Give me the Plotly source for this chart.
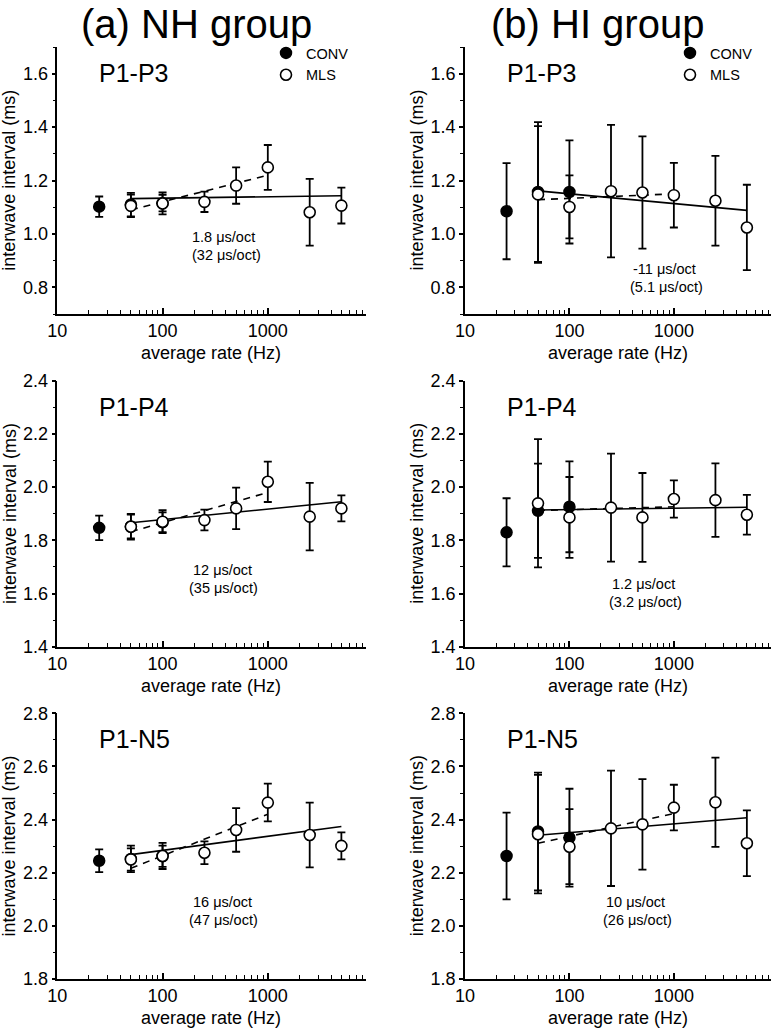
import plotly.graph_objects as go

# ---------------- data ----------------
rates_conv = [25, 50, 100]
rates_mls = [50, 100, 250, 500, 1000, 2500, 5000]
fit_solid_x = [50, 5000]
fit_dashed_x = [50, 1000]

# (a) NH group, P1-P3
nh_p13_conv = [1.102, 1.110, 1.115]
nh_p13_conv_err = [0.038, 0.044, 0.031]
nh_p13_mls = [1.105, 1.114, 1.120, 1.181, 1.249, 1.081, 1.106]
nh_p13_mls_err = [0.042, 0.041, 0.038, 0.068, 0.084, 0.125, 0.067]
nh_p13_fit_all = [1.132, 1.143]
nh_p13_fit_low = [1.090, 1.220]
nh_p13_slopes = ["1.8 μs/oct", "(32 μs/oct)"]

# (b) HI group, P1-P3
hi_p13_conv = [1.085, 1.157, 1.157]
hi_p13_conv_err = [0.180, 0.262, 0.193]
hi_p13_mls = [1.148, 1.101, 1.160, 1.155, 1.145, 1.124, 1.024]
hi_p13_mls_err = [0.256, 0.118, 0.248, 0.210, 0.121, 0.168, 0.160]
hi_p13_fit_all = [1.161, 1.088]
hi_p13_fit_low = [1.128, 1.150]
hi_p13_slopes = ["-11 μs/oct", "(5.1 μs/oct)"]

# (a) NH group, P1-P4
nh_p14_conv = [1.847, 1.852, 1.868]
nh_p14_conv_err = [0.046, 0.045, 0.037]
nh_p14_mls = [1.851, 1.870, 1.876, 1.920, 2.020, 1.889, 1.920]
nh_p14_mls_err = [0.048, 0.043, 0.039, 0.078, 0.076, 0.127, 0.049]
nh_p14_fit_all = [1.866, 1.945]
nh_p14_fit_low = [1.832, 1.980]
nh_p14_slopes = ["12 μs/oct", "(35 μs/oct)"]

# (b) HI group, P1-P4
hi_p14_conv = [1.830, 1.911, 1.926]
hi_p14_conv_err = [0.128, 0.177, 0.171]
hi_p14_mls = [1.939, 1.886, 1.923, 1.886, 1.955, 1.951, 1.896]
hi_p14_mls_err = [0.241, 0.152, 0.203, 0.167, 0.070, 0.138, 0.075]
hi_p14_fit_all = [1.914, 1.924]
hi_p14_fit_low = [1.912, 1.926]
hi_p14_slopes = ["1.2 μs/oct", "(3.2 μs/oct)"]

# (a) NH group, P1-N5
nh_n5_conv = [2.245, 2.252, 2.262]
nh_n5_conv_err = [0.043, 0.050, 0.040]
nh_n5_mls = [2.250, 2.263, 2.275, 2.361, 2.464, 2.342, 2.301]
nh_n5_mls_err = [0.042, 0.049, 0.043, 0.082, 0.071, 0.122, 0.051]
nh_n5_fit_all = [2.268, 2.374]
nh_n5_fit_low = [2.217, 2.420]
nh_n5_slopes = ["16 μs/oct", "(47 μs/oct)"]

# (b) HI group, P1-N5
hi_n5_conv = [2.263, 2.355, 2.332]
hi_n5_conv_err = [0.163, 0.222, 0.184]
hi_n5_mls = [2.345, 2.298, 2.367, 2.382, 2.445, 2.465, 2.311]
hi_n5_mls_err = [0.223, 0.141, 0.217, 0.170, 0.086, 0.168, 0.124]
hi_n5_fit_all = [2.341, 2.407]
hi_n5_fit_low = [2.311, 2.423]
hi_n5_slopes = ["10 μs/oct", "(26 μs/oct)"]

group_titles = ["(a) NH group", "(b) HI group"]
panel_labels = ["P1-P3", "P1-P3", "P1-P4", "P1-P4", "P1-N5", "P1-N5"]

# y axes per row: range, labelled ticks, minor ticks
row_y_range = [[0.7, 1.7], [1.4, 2.4], [1.8, 2.8]]
row_y_major = [[0.8, 1.0, 1.2, 1.4, 1.6],
               [1.4, 1.6, 1.8, 2.0, 2.2, 2.4],
               [1.8, 2.0, 2.2, 2.4, 2.6, 2.8]]
row_y_minor = [[0.7, 0.9, 1.1, 1.3, 1.5, 1.7],
               [1.5, 1.7, 1.9, 2.1, 2.3],
               [1.9, 2.1, 2.3, 2.5, 2.7]]

x_tick_vals = [10, 100, 1000]
x_tick_text = ["10", "100", "1000"]
x_minor_vals = [20, 30, 40, 50, 60, 70, 80, 90, 200, 300, 400, 500, 600, 700, 800, 900,
                2000, 3000, 4000, 5000, 6000, 7000, 8000]
x_title = "average rate (Hz)"
y_title = "interwave interval (ms)"

# ---------------- layout helpers ----------------
W, H = 773, 1030
FONT = "Liberation Sans, Arial, sans-serif"

panels = [
    (nh_p13_conv, nh_p13_conv_err, nh_p13_mls, nh_p13_mls_err, nh_p13_fit_all, nh_p13_fit_low, nh_p13_slopes),
    (hi_p13_conv, hi_p13_conv_err, hi_p13_mls, hi_p13_mls_err, hi_p13_fit_all, hi_p13_fit_low, hi_p13_slopes),
    (nh_p14_conv, nh_p14_conv_err, nh_p14_mls, nh_p14_mls_err, nh_p14_fit_all, nh_p14_fit_low, nh_p14_slopes),
    (hi_p14_conv, hi_p14_conv_err, hi_p14_mls, hi_p14_mls_err, hi_p14_fit_all, hi_p14_fit_low, hi_p14_slopes),
    (nh_n5_conv, nh_n5_conv_err, nh_n5_mls, nh_n5_mls_err, nh_n5_fit_all, nh_n5_fit_low, nh_n5_slopes),
    (hi_n5_conv, hi_n5_conv_err, hi_n5_mls, hi_n5_mls_err, hi_n5_fit_all, hi_n5_fit_low, hi_n5_slopes),
]

# pixel boxes (left, right) and (top, bottom)
col_px = [(57.3, 365.7), (465.0, 771.0)]
row_px = [(47.0, 314.0), (380.7, 646.7), (713.3, 979.0)]
# slope-text centres (px)
slope_px = [(224, 237), (664, 269), (222, 570), (643, 584), (222, 902), (635, 902)]
title_px = [(196, 24), (597, 24)]


def px_x(v):
    return v / W


def px_y(v):
    return 1 - v / H


fig = go.Figure()
layout = dict(
    width=W, height=H,
    margin=dict(l=0, r=0, t=0, b=0, autoexpand=False),
    paper_bgcolor="white", plot_bgcolor="white",
    font=dict(family=FONT, color="black", size=18),
    annotations=[],
)

for i, (conv, conv_err, mls, mls_err, fit_all, fit_low, slopes) in enumerate(panels):
    r, c = divmod(i, 2)
    xa = "x" if i == 0 else f"x{i+1}"
    ya = "y" if i == 0 else f"y{i+1}"
    xkey = "xaxis" if i == 0 else f"xaxis{i+1}"
    ykey = "yaxis" if i == 0 else f"yaxis{i+1}"
    (l, rr), (t, b) = col_px[c], row_px[r]

    layout[xkey] = dict(
        type="log", range=[1, 3.93], domain=[px_x(l), px_x(rr)], anchor=ya,
        tickmode="array", tickvals=x_tick_vals, ticktext=x_tick_text,
        ticks="inside", ticklen=6, tickwidth=1.5, tickcolor="black",
        minor=dict(tickmode="array", tickvals=x_minor_vals, ticks="inside", ticklen=4,
                   tickwidth=1.2, tickcolor="black"),
        showline=True, linewidth=1.5, linecolor="black", showgrid=False, zeroline=False,
        tickfont=dict(size=18), fixedrange=True,
    )
    layout[ykey] = dict(
        range=row_y_range[r], domain=[px_y(b), px_y(t)], anchor=xa,
        tickmode="array", tickvals=row_y_major[r], ticktext=[f"{v:.1f}" for v in row_y_major[r]],
        ticks="outside", ticklen=4, tickwidth=1.5, tickcolor="black",
        minor=dict(tickmode="array", tickvals=row_y_minor[r], ticks="outside", ticklen=3,
                   tickwidth=1.2, tickcolor="black"),
        showline=True, linewidth=1.5, linecolor="black", showgrid=False, zeroline=False,
        tickfont=dict(size=18), fixedrange=True,
    )

    # regression lines (under markers)
    fig.add_trace(go.Scatter(x=fit_solid_x, y=fit_all, mode="lines", xaxis=xa, yaxis=ya,
                             line=dict(color="black", width=1.6), showlegend=False, hoverinfo="skip"))
    fig.add_trace(go.Scatter(x=fit_dashed_x, y=fit_low, mode="lines", xaxis=xa, yaxis=ya,
                             line=dict(color="black", width=1.6, dash="7px,6px"),
                             showlegend=False, hoverinfo="skip"))

    leg = "legend" if i == 0 else "legend2"
    show = i in (0, 1)
    fig.add_trace(go.Scatter(
        x=rates_conv, y=conv, mode="markers", name="CONV", xaxis=xa, yaxis=ya,
        marker=dict(symbol="circle", size=11, color="black", line=dict(color="black", width=1.5)),
        error_y=dict(type="data", array=conv_err, visible=True, color="black", thickness=1.8, width=4),
        showlegend=show, legend=leg,
    ))
    fig.add_trace(go.Scatter(
        x=rates_mls, y=mls, mode="markers", name="MLS", xaxis=xa, yaxis=ya,
        marker=dict(symbol="circle", size=11, color="white", line=dict(color="black", width=1.6)),
        error_y=dict(type="data", array=mls_err, visible=True, color="black", thickness=1.8, width=4),
        showlegend=show, legend=leg,
    ))

    ann = layout["annotations"]
    # panel label
    ann.append(dict(text=panel_labels[i], xref="paper", yref="paper",
                    x=px_x(l + 40), y=px_y(t + 26), xanchor="left", yanchor="middle",
                    showarrow=False, font=dict(size=25)))
    # slope text
    sx, sy = slope_px[i]
    ann.append(dict(text=slopes[0], xref="paper", yref="paper", x=px_x(sx), y=px_y(sy),
                    xanchor="center", yanchor="middle", showarrow=False, font=dict(size=14.5)))
    ann.append(dict(text=slopes[1], xref="paper", yref="paper", x=px_x(sx + 2), y=px_y(sy + 18),
                    xanchor="center", yanchor="middle", showarrow=False, font=dict(size=14.5)))
    # axis titles
    ann.append(dict(text=x_title, xref="paper", yref="paper", x=px_x((l + rr) / 2),
                    y=px_y(b + 39), xanchor="center", yanchor="middle", showarrow=False,
                    font=dict(size=18)))
    ann.append(dict(text=y_title, xref="paper", yref="paper", x=px_x(l - 48),
                    y=px_y((t + b) / 2), xanchor="center", yanchor="middle", textangle=-90,
                    showarrow=False, font=dict(size=18)))

for k, title in enumerate(group_titles):
    tx, ty = title_px[k]
    layout["annotations"].append(dict(text=title, xref="paper", yref="paper",
                                      x=px_x(tx), y=px_y(ty),
                                      xanchor="center", yanchor="middle", showarrow=False,
                                      font=dict(size=40)))

legend_common = dict(xanchor="left", yanchor="top", bgcolor="rgba(0,0,0,0)",
                     font=dict(size=14.5), itemwidth=30, tracegroupgap=0,
                     traceorder="normal", borderwidth=0)
layout["legend"] = dict(x=px_x(266), y=px_y(37), **legend_common)
layout["legend2"] = dict(x=px_x(670), y=px_y(37), **legend_common)

fig.update_layout(**layout)
fig.write_html("out.html", post_script="document.body.style.margin='0';",
               config={"displayModeBar": False})
